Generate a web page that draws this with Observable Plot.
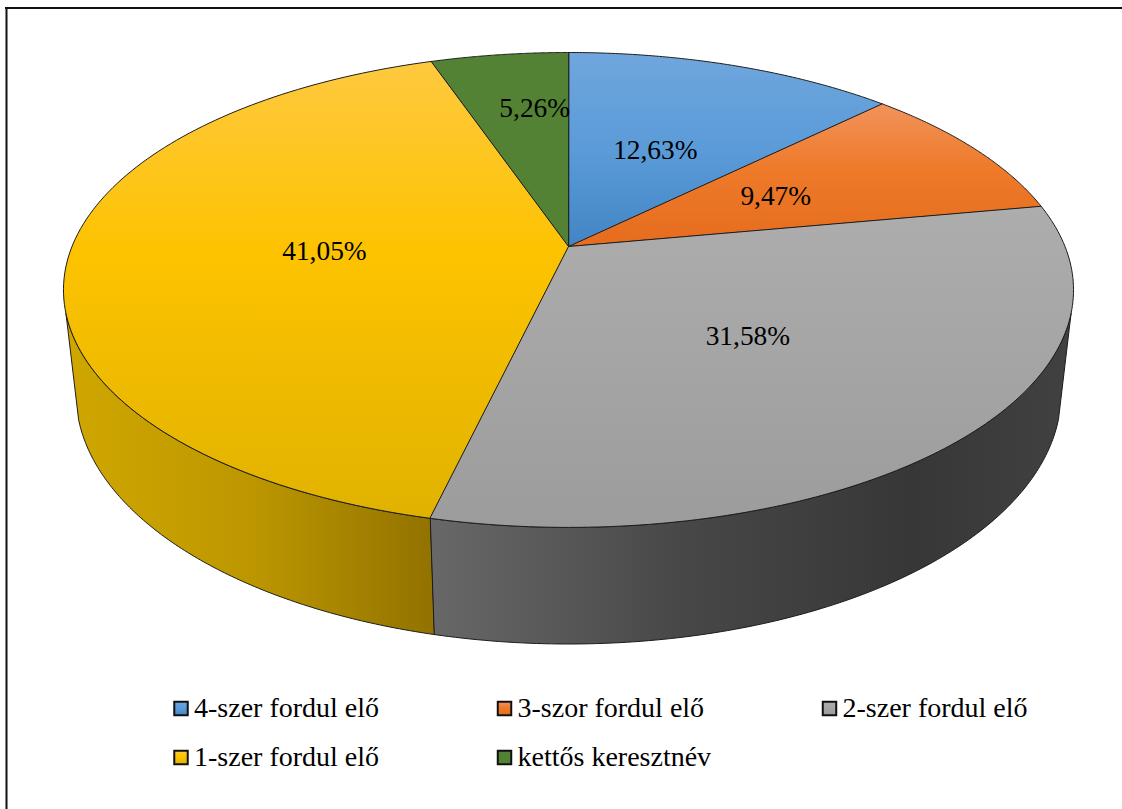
<!DOCTYPE html>
<html>
<head>
<meta charset="utf-8">
<title>Keresztnevek előfordulása</title>
<script src="https://cdn.jsdelivr.net/npm/d3@7"></script>
<script src="https://cdn.jsdelivr.net/npm/@observablehq/plot@0.6"></script>
<style>
  html, body { margin: 0; padding: 0; background: #fff; }
  svg { display: block; }
</style>
</head>
<body>
<div id="chart"></div>
<script>
// Shares of the pie, clockwise from twelve o'clock
const categories = ["4-szer fordul elő", "3-szor fordul elő", "2-szer fordul elő", "1-szer fordul elő", "kettős keresztnév"];
const shares = [12.63, 9.47, 31.58, 41.05, 5.26];
const shareLabels = ["12,63%", "9,47%", "31,58%", "41,05%", "5,26%"];

// Vertical shading of the top face, as [offset, colour] stops
const topStops = [
  [[0, "#70a6dd"], [0.5, "#5a9bd8"], [1, "#4385c4"]],
  [[0, "#f2935c"], [0.45, "#ee7a2a"], [1, "#e66c1e"]],
  [[0, "#adadad"], [1, "#9c9c9c"]],
  [[0, "#fec93f"], [0.42, "#fdc300"], [1, "#e0b200"]],
  [[0, "#548235"], [1, "#548235"]]
];
// Horizontal shading of the visible side wall
const wallStops = {
  2: [[0, "#686868"], [0.4, "#474747"], [0.75, "#373737"], [1, "#414141"]],
  3: [[0, "#d0a700"], [0.5, "#bd9700"], [1, "#927200"]]
};

// Perspective model of the disc: unit circle (u, v), v grows toward the viewer
const cx = 568, cy = 246;
const halfWidth = 496.5, halfDepth = 229.5, tilt = 0.183;
const drop = 105, dropShrink = 0.0245;
const labelRadius = 0.49;
const silhouette = Math.acos(-0.277);

function project(theta, r = 1, depth = 0) {
  const u = r * Math.sin(theta), v = -r * Math.cos(theta);
  const d = 1 - tilt * v + (depth ? dropShrink : 0);
  return {x: cx + halfWidth * u / d, y: cy + (halfDepth * v + (depth ? drop : 0)) / d};
}
const arc = (a, b, depth = 0) =>
  d3.range(0, 121).map((i) => project(a + (b - a) * i / 120, 1, depth));

// Cumulative start and end angle of each slice
const total = d3.sum(shares);
let running = 0;
const slices = shares.map((share, i) => {
  const start = running / total * 2 * Math.PI;
  running += share;
  return {i, start, end: running / total * 2 * Math.PI, mid: (running - share / 2) / total * 2 * Math.PI};
});

const edge = {x: "x", y: "y", curve: "linear-closed", stroke: "#1c1c1c", strokeWidth: 1, strokeLinejoin: "round"};

// Side walls come first so that the top face overlaps them
const wallMarks = slices.flatMap((s) => {
  const a = Math.max(s.start, silhouette);
  const b = Math.min(s.end, 2 * Math.PI - silhouette);
  if (a >= b) return [];
  const outline = [...arc(a, b), ...arc(b, a, 1)];
  return [Plot.line(outline, {...edge, fill: `url(#wall${s.i})`})];
});

const topMarks = slices.map((s) =>
  Plot.line([{x: cx, y: cy}, ...arc(s.start, s.end)], {...edge, fill: `url(#top${s.i})`})
);

// Gradient definitions shared by the slices and the legend swatches
function gradients() {
  const defs = d3.create("svg:defs");
  const add = (id, stops, horizontal) => {
    const g = defs.append("linearGradient").attr("id", id)
      .attr("x1", 0).attr("y1", 0)
      .attr("x2", horizontal ? 1 : 0).attr("y2", horizontal ? 0 : 1);
    for (const [offset, color] of stops) g.append("stop").attr("offset", offset).attr("stop-color", color);
  };
  topStops.forEach((stops, i) => add(`top${i}`, stops, false));
  for (const i of Object.keys(wallStops)) add(`wall${i}`, wallStops[i], true);
  return defs.node();
}

const serif = {fontFamily: "'Liberation Serif', 'Times New Roman', serif", fill: "#000", lineAnchor: "middle"};
const labelSize = 27.4, legendSize = 28;

// Data labels sit at a fixed radius on each slice's middle angle, each with its own small nudge
const labelNudge = [[0, 0], [0, 0], [0, 2.5], [0, -0.5], [3, -36]];
const labelMarks = slices.map((s) =>
  Plot.text([{...project(s.mid, labelRadius), text: shareLabels[s.i]}], {
    x: "x", y: "y", text: "text", fontSize: labelSize,
    dx: labelNudge[s.i][0], dy: labelNudge[s.i][1], ...serif
  })
);

// Legend: three columns, two rows
const legendColumns = [180.5, 504, 829], legendRows = [708, 757];
const legendData = categories.map((name, i) => ({
  name, i, x: legendColumns[i % 3], y: legendRows[Math.floor(i / 3)]
}));
const legendMarks = legendData.flatMap((d) => [
  Plot.dot([d], {x: "x", y: "y", symbol: "square", r: 7.6, fill: `url(#top${d.i})`, stroke: "#111", strokeWidth: 2}),
  Plot.text([d], {x: "x", y: "y", text: "name", dx: 13, textAnchor: "start", fontSize: legendSize, ...serif})
]);

const chart = Plot.plot({
  width: 1122,
  height: 809,
  margin: 0,
  style: {background: "#fff"},
  x: {domain: [0, 1122], range: [0, 1122], axis: null},
  y: {domain: [0, 809], range: [0, 809], axis: null},
  marks: [
    gradients,
    Plot.ruleX([6], {y1: 7, y2: 809, stroke: "#111", strokeWidth: 2}),
    Plot.ruleY([7.5], {x1: 5, x2: 1122, stroke: "#111", strokeWidth: 2}),
    ...wallMarks,
    ...topMarks,
    ...labelMarks,
    ...legendMarks
  ]
});
document.getElementById("chart").append(chart);
</script>
</body>
</html>
